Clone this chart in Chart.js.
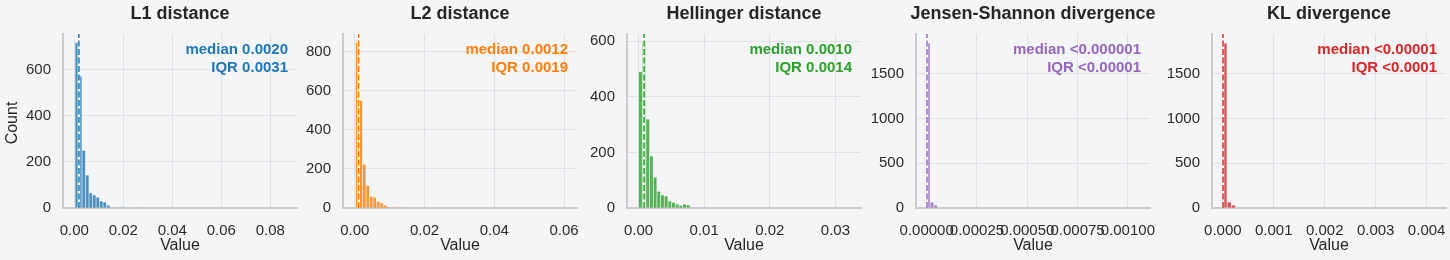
<!DOCTYPE html>
<html>
<head>
<meta charset="utf-8">
<script src="https://cdn.jsdelivr.net/npm/chart.js@4.4.1/dist/chart.umd.min.js"></script>
<style>
  body { margin: 0; background: #f4f5f7; }
  #wrap { position: relative; width: 1450px; height: 260px; overflow: hidden; }
  #wrap canvas { position: absolute; top: 0; }
</style>
</head>
<body>
<div id="wrap"></div>
<script>
// panel titles and colours
const titles = ['L1 distance', 'L2 distance', 'Hellinger distance', 'Jensen-Shannon divergence', 'KL divergence'];
const colors = ['#1f77b4', '#ff7f0e', '#2ca02c', '#9467bd', '#d62728'];
const barColors = ['rgba(31,119,180,0.8)', 'rgba(255,127,14,0.8)', 'rgba(44,160,44,0.8)', 'rgba(148,103,189,0.8)', 'rgba(214,39,40,0.8)'];

// histogram bins: first edge and width of one bin
const binStarts = [0.0003, 0.0002, 0.0, 0.0, 0.0];
const binWidths = [0.00143, 0.001, 0.00056, 0.0000177, 0.0000843];

// counts per bin
const l1Counts = [718, 572, 249, 142, 64, 55, 46, 29, 24, 11, 3, 2, 2, 1, 0, 0, 0, 0, 0, 2];
const l2Counts = [846, 550, 222, 114, 58, 53, 32, 24, 13, 5, 3, 2, 1];
const hellingerCounts = [489, 596, 319, 186, 110, 59, 46, 42, 24, 19, 13, 8, 13, 10, 2];
const jsCounts = [1838, 62, 29];
const klCounts = [1838, 62, 29];
const allCounts = [l1Counts, l2Counts, hellingerCounts, jsCounts, klCounts];

// median line position and the annotation texts
const medians = [0.0019, 0.0011, 0.00085, 0.0000015, 0.000004];
const medianLabels = ['median 0.0020', 'median 0.0012', 'median 0.0010', 'median <0.000001', 'median <0.00001'];
const iqrLabels = ['IQR 0.0031', 'IQR 0.0019', 'IQR 0.0014', 'IQR <0.00001', 'IQR <0.0001'];

// axes
const xTicks = [
  [0, 0.02, 0.04, 0.06, 0.08],
  [0, 0.02, 0.04, 0.06],
  [0, 0.01, 0.02, 0.03],
  [0, 0.00025, 0.0005, 0.00075, 0.001],
  [0, 0.001, 0.002, 0.003, 0.004]
];
const xTickLabels = [
  ['0.00', '0.02', '0.04', '0.06', '0.08'],
  ['0.00', '0.02', '0.04', '0.06'],
  ['0.00', '0.01', '0.02', '0.03'],
  ['0.00000', '0.00025', '0.00050', '0.00075', '0.00100'],
  ['0.000', '0.001', '0.002', '0.003', '0.004']
];
const xLimits = [[-0.0046, 0.0909], [-0.0034, 0.0637], [-0.00176, 0.0339], [-0.000053, 0.00111], [-0.000212, 0.00438]];
const yTicks = [[0, 200, 400, 600], [0, 200, 400, 600, 800], [0, 200, 400, 600], [0, 500, 1000, 1500], [0, 500, 1000, 1500]];
const yMax = [756, 891, 626, 1942, 1942];

const plotLefts = [63, 343, 627, 916, 1212];
const FONT = '"Liberation Sans", Arial, sans-serif';

// titles, axis labels and median/IQR text
const panelText = {
  id: 'panelText',
  afterDraw(chart, args, opts) {
    const { ctx, chartArea } = chart;
    const cx = (chartArea.left + chartArea.right) / 2;
    ctx.save();
    ctx.fillStyle = '#262626';
    ctx.textAlign = 'center';
    ctx.textBaseline = 'middle';
    ctx.font = 'bold 18px ' + FONT;
    ctx.fillText(opts.title, cx, 14);
    ctx.font = '16px ' + FONT;
    ctx.fillText('Value', cx, 246);
    if (opts.showCount) {
      ctx.translate(12, 123);
      ctx.rotate(-Math.PI / 2);
      ctx.fillText('Count', 0, 0);
      ctx.setTransform(1, 0, 0, 1, 0, 0);
    }
    ctx.font = 'bold 15px ' + FONT;
    ctx.fillStyle = opts.color;
    ctx.textAlign = 'right';
    ctx.fillText(opts.median, chartArea.right - 9, 49.5);
    ctx.fillText(opts.iqr, chartArea.right - 9, 67.5);
    ctx.restore();
  }
};

const wrap = document.getElementById('wrap');

for (let p = 0; p < 5; p++) {
  const canvas = document.createElement('canvas');
  canvas.width = 62 + 234 + 30;
  canvas.height = 260;
  canvas.style.left = (plotLefts[p] - 62) + 'px';
  wrap.appendChild(canvas);

  const bars = allCounts[p].map((c, i) => ({ x: binStarts[p] + (i + 0.5) * binWidths[p], y: c }));
  const medLine = [{ x: medians[p], y: 0 }, { x: medians[p], y: yMax[p] }];

  new Chart(canvas.getContext('2d'), {
    type: 'bar',
    data: {
      datasets: [
        { type: 'bar', data: bars, backgroundColor: barColors[p], borderWidth: 0, barPercentage: 0.8, categoryPercentage: 1, order: 3 },
        { type: 'line', data: medLine, borderColor: '#ffffff', borderWidth: 2.5, pointRadius: 0, order: 2 },
        { type: 'line', data: medLine, borderColor: colors[p], borderWidth: 1.5, borderDash: [6, 2.5], pointRadius: 0, order: 1 }
      ]
    },
    options: {
      responsive: false,
      animation: false,
      devicePixelRatio: 1,
      layout: { padding: { top: 34, right: 30, left: 0, bottom: 0 } },
      plugins: {
        legend: { display: false },
        tooltip: { enabled: false },
        panelText: { title: titles[p], color: colors[p], median: medianLabels[p], iqr: iqrLabels[p], showCount: p === 0 }
      },
      scales: {
        x: {
          type: 'linear',
          min: xLimits[p][0],
          max: xLimits[p][1],
          offset: false,
          grid: { offset: false, color: '#e0e1e4', drawTicks: false },
          border: { color: '#cbcbcb', width: 2 },
          ticks: {
            padding: 14, color: '#2b2b2b', font: { size: 15, family: FONT },
            autoSkip: false, maxRotation: 0, minRotation: 0,
            callback: (v, i) => xTickLabels[p][i]
          },
          afterBuildTicks: s => { s.ticks = xTicks[p].map(v => ({ value: v })); },
          afterFit: s => { s.height = 52; }
        },
        y: {
          min: 0,
          max: yMax[p],
          grid: { color: '#e0e1e4', drawTicks: false },
          border: { color: '#cbcbcb', width: 2 },
          ticks: {
            padding: 12, color: '#2b2b2b', font: { size: 15, family: FONT },
            callback: v => String(v)
          },
          afterBuildTicks: s => { s.ticks = yTicks[p].map(v => ({ value: v })); },
          afterFit: s => { s.width = 62; }
        }
      }
    },
    plugins: [panelText]
  });
}
</script>
</body>
</html>
